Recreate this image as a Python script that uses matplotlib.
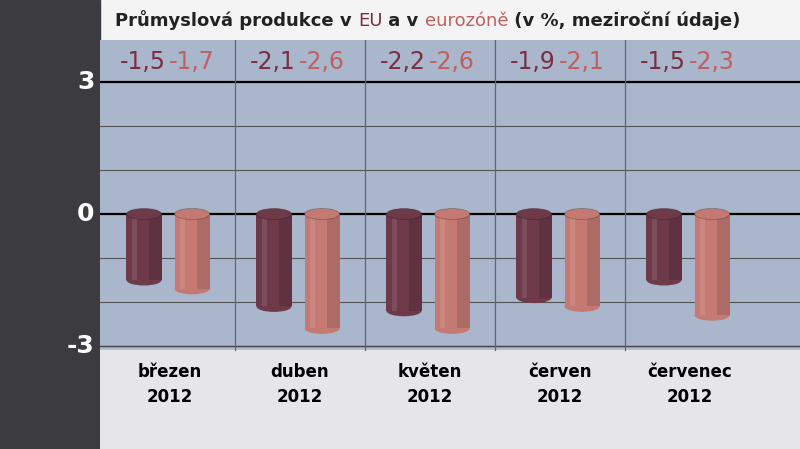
import matplotlib.pyplot as plt
from matplotlib.patches import Ellipse, Rectangle

plt.rcParams['font.family'] = ['DejaVu Sans']

months = ['březen', 'duben', 'květen', 'červen', 'červenec']
year = '2012'
eu = [-1.5, -2.1, -2.2, -1.9, -1.5]
ez = [-1.7, -2.6, -2.6, -2.1, -2.3]
eu_lbl = ['-1,5', '-2,1', '-2,2', '-1,9', '-1,5']
ez_lbl = ['-1,7', '-2,6', '-2,6', '-2,1', '-2,3']

dark = '#6e3a4a'
light = '#c47a72'
dark_txt = '#7a2e40'
light_txt = '#c0605e'

fig = plt.figure(figsize=(8, 4.49), dpi=100)
fig.patch.set_facecolor('#f4f4f4')
# tmavý pruh vlevo
fig.add_artist(Rectangle((0, 0), 100/800, 1, transform=fig.transFigure, color='#3b3b40', zorder=0))

ax = fig.add_axes([100/800, 0, 700/800, 409/449])
ax.set_xlim(-70/130, 630/130)
ax.set_ylim(-235/44, 174/44)
ax.axis('off')

top = 174/44
plot_bottom = -136/44
ax.axhspan(plot_bottom, top, color='#aab6cc', zorder=0)
ax.axhspan(-235/44, plot_bottom, color='#e6e6e8', zorder=0)

for y in [2, 1, -1, -2]:
    ax.axhline(y, color='#555555', lw=0.8, zorder=1)
for y in [3, 0]:
    ax.axhline(y, color='black', lw=1.6, zorder=1)
ax.plot([-70/130, 630/130], [-3, -3], color='#444444', lw=1.0, zorder=1)
for xb in [0.5, 1.5, 2.5, 3.5]:
    ax.plot([xb, xb], [plot_bottom, top], color='#666666', lw=0.9, zorder=1)

w = 0.27
eh = 0.25
def cylinder(xc, val, col):
    ax.add_patch(Rectangle((xc - w/2, val), w, -val, facecolor=col, edgecolor='none', zorder=3))
    ax.add_patch(Ellipse((xc, val), w, eh, facecolor=col, edgecolor='none', zorder=3))
    ax.add_patch(Ellipse((xc, 0), w, eh, facecolor=col, edgecolor='#00000040', lw=0.6, zorder=4))
    # stínování
    ax.add_patch(Rectangle((xc + w*0.15, val), w*0.35, -val, facecolor='black', alpha=0.12, edgecolor='none', zorder=3.5))
    ax.add_patch(Rectangle((xc - w*0.35, val), w*0.15, -val, facecolor='white', alpha=0.1, edgecolor='none', zorder=3.5))

for i in range(len(months)):
    cylinder(i - 0.2, eu[i], dark)
    cylinder(i + 0.17, ez[i], light)
    ax.text(i - 0.03, 3.45, eu_lbl[i], ha='right', va='center', fontsize=17, color=dark_txt, zorder=5)
    ax.text(i - 0.01, 3.45, ez_lbl[i], ha='left', va='center', fontsize=17, color=light_txt, zorder=5)
    ax.text(i, -3.6, months[i], ha='center', va='center', fontsize=12, fontweight='bold', color='black')
    ax.text(i, -4.15, year, ha='center', va='center', fontsize=12, fontweight='bold', color='black')

for y, t in [(3, '3'), (0, '0'), (-3, '-3')]:
    ax.text(-0.58, y, t, ha='right', va='center', fontsize=18, fontweight='bold', color='white')

# titulek poskládaný z částí
parts = [('Průmyslová produkce v ', '#222222', 'bold'),
         ('EU', dark_txt, 'normal'),
         (' a v ', '#222222', 'bold'),
         ('eurozóně', light_txt, 'normal'),
         (' (v %, meziroční údaje)', '#222222', 'bold')]
last = fig.text(115/800, 0.942, parts[0][0], ha='left', va='baseline', fontsize=13,
                fontweight=parts[0][2], color=parts[0][1])
for txt, col, fw in parts[1:]:
    last = fig.add_artist(plt.Annotation(txt, xy=(1, 0), xycoords=last, xytext=(0, 0),
                                         textcoords='offset points', ha='left', va='bottom',
                                         fontsize=13, fontweight=fw, color=col))

fig.savefig('out.png', dpi=100)
